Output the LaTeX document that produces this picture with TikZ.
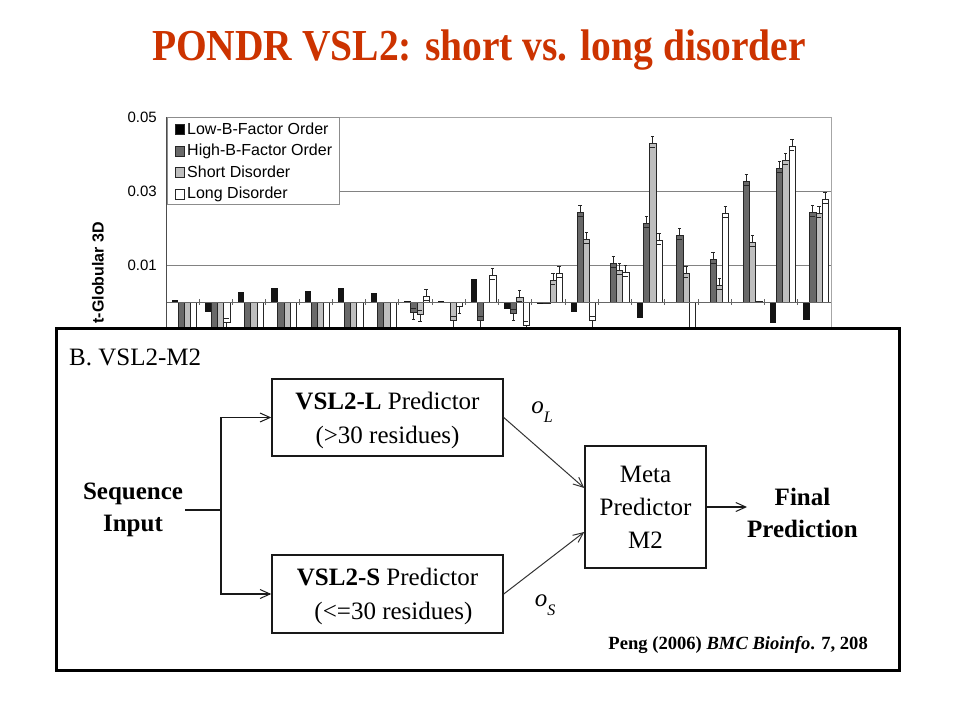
\documentclass[tikz,border=0pt]{standalone}
\usepackage{fontspec}
\setmainfont{Liberation Serif}
\setsansfont{Liberation Sans}
\usetikzlibrary{arrows.meta,calc}
\definecolor{titlered}{RGB}{204,51,0}
\definecolor{bardark}{RGB}{105,105,105}
\definecolor{barlight}{RGB}{190,190,190}
\definecolor{gridgray}{RGB}{130,130,130}
\newcommand{\fs}[1]{\fontsize{#1}{1.2\dimexpr #1pt\relax}\selectfont}
\begin{document}
\begin{tikzpicture}[x=1pt,y=-1pt,
  barline/.style={draw=black!85,line width=0.5pt},
  errline/.style={draw=black!85,line width=0.6pt},
  gridline/.style={draw=gridgray,line width=0.9pt},
  legtext/.style={anchor=west,inner sep=0pt,font=\sffamily\fs{16}},
  tick/.style={anchor=east,inner sep=0pt,font=\sffamily\fs{15}},
  legsq/.style={draw=black!85,line width=0.5pt,minimum size=9.5pt,inner sep=0pt},
  predbox/.style={draw=black!90,line width=1.5pt,inner sep=0pt,align=center,font=\fs{25},text depth=0pt},
  conn/.style={draw=black!90,line width=1.4pt},
  arr/.style={conn,-{Straight Barb[length=10pt,width=9pt,line width=1pt]}},
  diag/.style={draw=black!80,line width=1pt,-{Straight Barb[length=10pt,width=9pt,line width=1pt]}},
  bigtext/.style={align=center,font=\bfseries\fs{25},inner sep=2pt}
]
\useasboundingbox[fill=white] (0,0) rectangle (960,720);

% title
\node[font=\bfseries\fs{39.5},text=titlered,yscale=1.12] (title) at (479,50) {PONDR VSL2: short vs. long disorder};

% ---------- chart ----------
\draw[draw=black!35,line width=0.8pt] (166,117) -- (831,117) -- (831,330);
\draw[gridline] (166,191) -- (831,191);
\draw[gridline] (166,265) -- (831,265);
\foreach \g/\a/\b/\c/\d in {
 1/2/-40/-40/-40, 2/-10/-40/-40/-20, 3/10/-40/-40/-40, 4/14/-40/-40/-40,
 5/11/-40/-40/-40, 6/14/-40/-40/-40, 7/9/-40/-40/-40, 8/1/-10/-12/6,
 9/1/0/-18/-4, 10/23/-18/0/27, 11/-7/-11/5/-23, 12/-2/-1/22/29,
 13/-10/90/63/-18, 14/-1/39/32/30, 15/-16/79/159/62, 16/-1/67/29/-40,
 17/-1/43/17/89, 18/0/121/60/1, 19/-21/134/142/156, 20/-18/90/89/103}{
  \pgfmathsetmacro\xo{166+33.25*(\g-1)}
  \fill[black!92] (\xo+5.7,302) rectangle (\xo+11.9,302-\a);
  \foreach \v/\off/\col in {\b/11.9/bardark, \c/18.1/barlight, \d/24.3/white}{
    \pgfmathsetmacro\e{(\v>3) ? 7 : (((\v<-3) && (\v>-39)) ? -7 : 0)}
    \draw[barline,fill=\col] (\xo+\off,302) rectangle (\xo+\off+6.2,302-\v);
    \draw[errline] (\xo+\off+3.1,302-\v) -- (\xo+\off+3.1,302-\v-\e)
      (\xo+\off+1.4,302-\v-\e) -- (\xo+\off+4.8,302-\v-\e)
      (\xo+\off+0.6,302-\v+0.6*\e) -- (\xo+\off+5.6,302-\v+0.6*\e);
  }
}
\draw[draw=black!60,line width=0.9pt] (166,302) -- (831,302);
\foreach \k in {1,...,19} \draw[draw=black!60,line width=0.7pt] ({166+33.25*\k},299) -- ++(0,6);
\draw[draw=black!70,line width=1pt] (166,117) -- (166,330);

% legend
\node[draw=black!45,line width=0.8pt,fill=white,minimum width=172pt,minimum height=87pt,anchor=north west,inner sep=0pt] (legend) at (167,117) {};
\node[legsq,fill=black] (sq1) at (179.5,129) {};
\node[legsq,fill=bardark] (sq2) at (179.5,151) {};
\node[legsq,fill=barlight] (sq3) at (179.5,172) {};
\node[legsq,fill=white] (sq4) at (179.5,194) {};
\node[legtext] (lt1) at (187,129) {Low-B-Factor Order};
\node[legtext] (lt2) at (187,151) {High-B-Factor Order};
\node[legtext] (lt3) at (187,172) {Short Disorder};
\node[legtext] (lt4) at (187,194) {Long Disorder};

% axis tick labels
\node[tick] (t5) at (157,117) {0.05};
\node[tick] (t3) at (157,191) {0.03};
\node[tick] (t1) at (157,265) {0.01};
\node[rotate=90,anchor=east,inner sep=0pt,font=\sffamily\bfseries\fs{16}] (ylab) at (98,222) {t-Globular 3D};

% ---------- diagram panel ----------
\node[draw=black,line width=3pt,fill=white,minimum width=843pt,minimum height=342pt,inner sep=0pt] (frame) at (477.5,499) {};
\node[anchor=west,font=\fs{25},inner sep=0pt] (panel) at (69,357) {B. VSL2-M2};

\node[predbox,minimum width=231pt,minimum height=77pt] (L) at (387.5,417.5)
  {\textbf{VSL2-L} Predictor\\[4pt](>30 residues)};
\node[predbox,minimum width=231pt,minimum height=78pt] (S) at (387.5,594)
  {\textbf{VSL2-S} Predictor\\[4pt]\hspace*{12pt}(<=30 residues)};
\node[predbox,minimum width=121pt,minimum height=122pt] (M) at (645.5,507)
  {Meta\\[3pt]Predictor\\[3pt]M2};

\node[bigtext] (seq) at (133,510) {Sequence\\[2pt]Input};
\node[bigtext,anchor=west,inner sep=0pt] (fin) at (747,513) {Final\\[2pt]Prediction};

\coordinate (split) at (221,510);
\draw[conn] (seq.east) -- (split);
\draw[arr] (split) |- (L.west);
\draw[arr] (split) |- (S.west);
\draw[diag] (L.east) -- ($(M.west)+(0,-19)$);
\draw[diag] (S.east) -- ($(M.west)+(0,25)$);
\draw[arr] (M.east) -- (M.east -| fin.west);

\node[font=\fs{25}] (oL) at (542,412) {\itshape o\raisebox{-0.35em}{\fs{16}L}};
\node[font=\fs{25}] (oS) at (545,605) {\itshape o\raisebox{-0.35em}{\fs{16}S}};

\node[anchor=east,font=\bfseries\fs{18.6},inner sep=0pt] (cite) at (868,645) {Peng (2006) \textit{BMC Bioinfo}. 7, 208};
\end{tikzpicture}
\end{document}
